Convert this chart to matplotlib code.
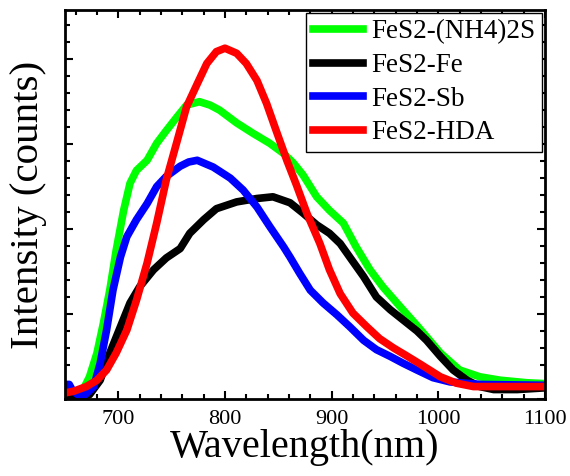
import matplotlib
matplotlib.use("Agg")
import matplotlib.pyplot as plt
from matplotlib.ticker import MultipleLocator, NullFormatter

plt.rcParams['font.family'] = ['Liberation Serif', 'DejaVu Serif']

# PL spectra (y in arbitrary units)
wl_nh4 = [650, 660, 667, 673, 680, 686, 692, 698, 705, 711, 717, 727, 736, 745, 755, 764,
          776, 786, 795, 811, 826, 842, 855, 864, 873, 880, 886, 898, 911, 923, 936, 948,
          964, 981, 1002, 1020, 1039, 1058, 1083, 1100]
int_nh4 = [0.07, 0.08, 0.11, 0.26, 0.54, 0.89, 1.28, 1.75, 2.22, 2.54, 2.69, 2.81, 3.01, 3.16,
           3.32, 3.46, 3.50, 3.46, 3.40, 3.25, 3.13, 3.01, 2.89, 2.78, 2.64, 2.50, 2.38, 2.22,
           2.07, 1.79, 1.52, 1.32, 1.09, 0.85, 0.54, 0.34, 0.26, 0.22, 0.19, 0.18]

wl_fe = [650, 664, 673, 683, 692, 702, 711, 720, 733, 745, 758, 767, 780, 792, 811, 830,
         845, 861, 873, 886, 898, 908, 917, 930, 942, 955, 967, 980, 989, 1002, 1014, 1027,
         1039, 1052, 1074, 1100]
int_fe = [0.0, 0.01, 0.05, 0.22, 0.54, 0.85, 1.13, 1.32, 1.52, 1.66, 1.77, 1.95, 2.11, 2.24,
          2.32, 2.36, 2.38, 2.31, 2.19, 2.05, 1.95, 1.83, 1.67, 1.44, 1.20, 1.05, 0.93, 0.80,
          0.69, 0.50, 0.34, 0.22, 0.145, 0.11, 0.11, 0.13]

wl_sb = [650, 652, 654, 657, 662, 669, 677, 683, 689, 695, 702, 708, 717, 727, 736, 745,
         758, 766, 774, 789, 805, 817, 830, 842, 855, 861, 870, 880, 892, 905, 917, 930,
         942, 955, 967, 980, 995, 1011, 1040, 1100]
int_sb = [0.10, 0.17, 0.17, 0.10, 0.05, 0.05, 0.145, 0.42, 0.81, 1.28, 1.67, 1.91, 2.11, 2.30,
          2.50, 2.62, 2.74, 2.79, 2.81, 2.73, 2.60, 2.46, 2.26, 2.03, 1.79, 1.67, 1.48, 1.28,
          1.13, 0.99, 0.85, 0.69, 0.58, 0.50, 0.42, 0.34, 0.25, 0.20, 0.17, 0.16]

wl_hda = [650, 658, 670, 680, 689, 698, 708, 717, 727, 736, 745, 755, 764, 774, 783, 792,
          800, 811, 820, 830, 839, 848, 858, 867, 877, 889, 898, 908, 920, 933, 945, 958,
          970, 983, 1002, 1017, 1033, 1058, 1100]
int_hda = [0.07, 0.09, 0.145, 0.22, 0.34, 0.54, 0.81, 1.16, 1.60, 2.07, 2.58, 3.03, 3.44, 3.71,
           3.95, 4.09, 4.13, 4.07, 3.95, 3.75, 3.48, 3.16, 2.81, 2.52, 2.18, 1.83, 1.52, 1.24,
           1.01, 0.85, 0.71, 0.60, 0.51, 0.41, 0.26, 0.185, 0.145, 0.145, 0.145]

fig = plt.figure(figsize=(5.7, 4.76), dpi=100)
ax = fig.add_axes([0.114, 0.162, 0.842, 0.817])

lw = 5.5
ax.plot(wl_nh4, int_nh4, color='#00ff00', lw=lw, label='FeS2-(NH4)2S', solid_joinstyle='round')
ax.plot(wl_fe, int_fe, color='black', lw=lw, label='FeS2-Fe', solid_joinstyle='round')
ax.plot(wl_sb, int_sb, color='#0000ff', lw=lw, label='FeS2-Sb', solid_joinstyle='round')
ax.plot(wl_hda, int_hda, color='#ff0000', lw=lw, label='FeS2-HDA', solid_joinstyle='round')

ax.set_xlim(650, 1100)
ax.set_ylim(0, 4.58)
ax.xaxis.set_major_locator(MultipleLocator(100))
ax.xaxis.set_minor_locator(MultipleLocator(20))
ax.yaxis.set_major_locator(MultipleLocator(1))
ax.yaxis.set_minor_locator(MultipleLocator(0.2))
ax.yaxis.set_major_formatter(NullFormatter())

ax.tick_params(which='both', direction='in', top=True, right=True, width=1.5)
ax.tick_params(which='major', length=6, labelsize=16, pad=8)
ax.tick_params(which='minor', length=3.5)
for s in ax.spines.values():
    s.set_linewidth(2)

ax.set_xlabel('Wavelength(nm)', fontsize=29, labelpad=0)
ax.set_ylabel('Intensity (counts)', fontsize=29.5, labelpad=5)

leg = ax.legend(loc='upper right', fontsize=19.5, frameon=True, fancybox=False,
                edgecolor='black', framealpha=1, borderaxespad=0.1,
                handlelength=1.85, handletextpad=0.3, labelspacing=0.32,
                borderpad=0.25)
leg.get_frame().set_linewidth(1)

fig.savefig('out.png', dpi=100)
